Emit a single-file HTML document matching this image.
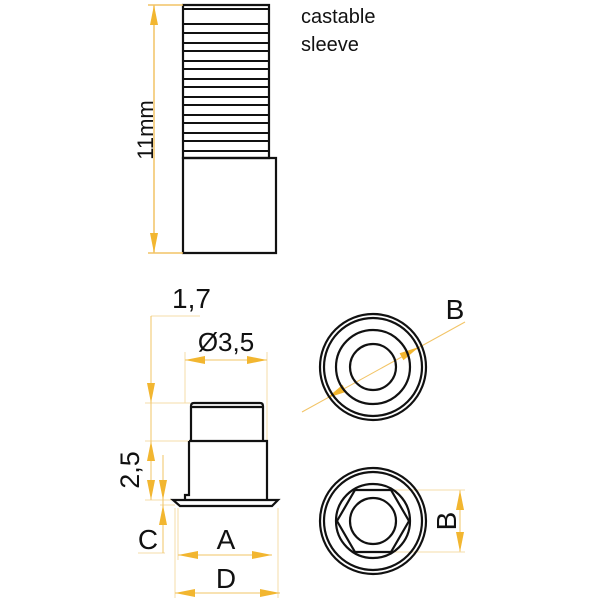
<!DOCTYPE html>
<html><head><style>
html,body{margin:0;padding:0;background:#fff;}
svg{display:block;}
text{font-family:"Liberation Sans",sans-serif;fill:#111;}
</style></head><body>
<svg width="600" height="600" viewBox="0 0 600 600">
<defs>
<g id="ah"><polygon points="0,0 20,-4 20,4" fill="#f2b630"/></g>
</defs>
<g stroke="#111" stroke-width="2.2" fill="none">
<path d="M183,5 H269 V158 H183 Z"/>
<path d="M183,158 H276 V253 H183 Z"/>
<g stroke-width="2">
<line x1="184" y1="9" x2="269" y2="9"/>
<line x1="184" y1="24" x2="269" y2="24"/><line x1="184" y1="33" x2="269" y2="33"/>
<line x1="184" y1="43" x2="269" y2="43"/><line x1="184" y1="51" x2="269" y2="51"/>
<line x1="184" y1="61" x2="269" y2="61"/><line x1="184" y1="69" x2="269" y2="69"/>
<line x1="184" y1="79" x2="269" y2="79"/><line x1="184" y1="87" x2="269" y2="87"/>
<line x1="184" y1="97" x2="269" y2="97"/><line x1="184" y1="105" x2="269" y2="105"/>
<line x1="184" y1="115" x2="269" y2="115"/><line x1="184" y1="123" x2="269" y2="123"/>
<line x1="184" y1="133" x2="269" y2="133"/><line x1="184" y1="141" x2="269" y2="141"/>
<line x1="184" y1="151" x2="269" y2="151"/>
</g>
</g>
<g stroke="#f2c466" stroke-width="1.5">
<line x1="154" y1="5" x2="154" y2="253"/>
<line x1="148" y1="5" x2="183" y2="5"/>
<line x1="148" y1="253" x2="183" y2="253"/>
</g>
<use href="#ah" transform="translate(154,5) rotate(90)"/>
<use href="#ah" transform="translate(154,253) rotate(-90)"/>
<text x="0" y="0" font-size="22" transform="translate(153,130) rotate(-90)" text-anchor="middle">11mm</text>
<text x="301" y="23" font-size="20">castable</text>
<text x="301" y="51" font-size="20">sleeve</text>

<g stroke="#f5dca8" stroke-width="1">
<line x1="151" y1="316" x2="200" y2="316"/>
<line x1="145" y1="403" x2="190" y2="403"/>
<line x1="145" y1="441" x2="190" y2="441"/>
<line x1="145" y1="500" x2="175" y2="500"/>
<line x1="160" y1="505" x2="175" y2="505"/>
<line x1="138" y1="553" x2="165" y2="553"/>
<line x1="185" y1="352" x2="185" y2="403"/>
<line x1="267" y1="352" x2="267" y2="441"/>
<line x1="178" y1="508" x2="178" y2="560"/>
<line x1="278" y1="508" x2="278" y2="598"/>
<line x1="175" y1="508" x2="175" y2="598"/>
</g>
<g stroke="#f2c466" stroke-width="1">
<line x1="151" y1="316" x2="151" y2="500"/>
<line x1="163" y1="455" x2="163" y2="553"/>
<line x1="185" y1="360" x2="267" y2="360"/>
<line x1="178" y1="555" x2="272" y2="555"/>
<line x1="175" y1="593" x2="280" y2="593"/>
<line x1="460" y1="490" x2="460" y2="552"/>
<line x1="302" y1="412" x2="465" y2="322"/>
</g>
<use href="#ah" transform="translate(151,403) rotate(-90)"/>
<use href="#ah" transform="translate(151,441) rotate(90)"/>
<use href="#ah" transform="translate(151,500) rotate(-90)"/>
<use href="#ah" transform="translate(163,500) rotate(-90)"/>
<use href="#ah" transform="translate(163,505) rotate(90)"/>
<use href="#ah" transform="translate(185,360)"/>
<use href="#ah" transform="translate(267,360) rotate(180)"/>
<use href="#ah" transform="translate(178,555)"/>
<use href="#ah" transform="translate(272,555) rotate(180)"/>
<use href="#ah" transform="translate(175,593)"/>
<use href="#ah" transform="translate(280,593) rotate(180)"/>
<use href="#ah" transform="translate(460,490) rotate(90)"/>
<use href="#ah" transform="translate(460,552) rotate(-90)"/>
<use href="#ah" transform="translate(327,398) rotate(-29)"/>
<use href="#ah" transform="translate(419,347) rotate(151)"/>

<g stroke="#111" stroke-width="2.2" fill="none">
<path d="M191,441 V406 Q191,403 194,403 H260 Q263,403 263,406 V441"/>
<line x1="191" y1="407" x2="263" y2="407"/>
<path d="M189,441 H267 V500"/>
<path d="M189,441 V495 H185 V500"/>
<path d="M173,500 H278 L272,506 H180 Z"/>
</g>
<text x="172" y="308" font-size="28">1,7</text>
<text x="226" y="351" font-size="26" text-anchor="middle">Ø3,5</text>
<text transform="translate(139,470) rotate(-90)" font-size="27" text-anchor="middle">2,5</text>
<text x="148" y="549" font-size="28" text-anchor="middle">C</text>
<text x="226" y="549" font-size="28" text-anchor="middle">A</text>
<text x="226" y="588" font-size="28" text-anchor="middle">D</text>
<text x="455" y="319" font-size="28" text-anchor="middle">B</text>
<text transform="translate(456,521) rotate(-90)" font-size="28" text-anchor="middle">B</text>

<g stroke="#f5dca8" stroke-width="1">
<line x1="392" y1="490" x2="465" y2="490"/>
<line x1="392" y1="552" x2="465" y2="552"/>
</g>

<g stroke="#111" stroke-width="2.2" fill="none">
<circle cx="373" cy="367" r="53"/><circle cx="373" cy="367" r="49"/>
<circle cx="373" cy="367" r="37"/><circle cx="373" cy="367" r="23"/>
<circle cx="373" cy="521" r="53"/><circle cx="373" cy="521" r="49"/>
<circle cx="373" cy="521" r="37"/><circle cx="373" cy="521" r="23"/>
<polygon points="337,521 355,490 391,490 409,521 391,552 355,552"/>
</g>
</svg>
</body></html>
